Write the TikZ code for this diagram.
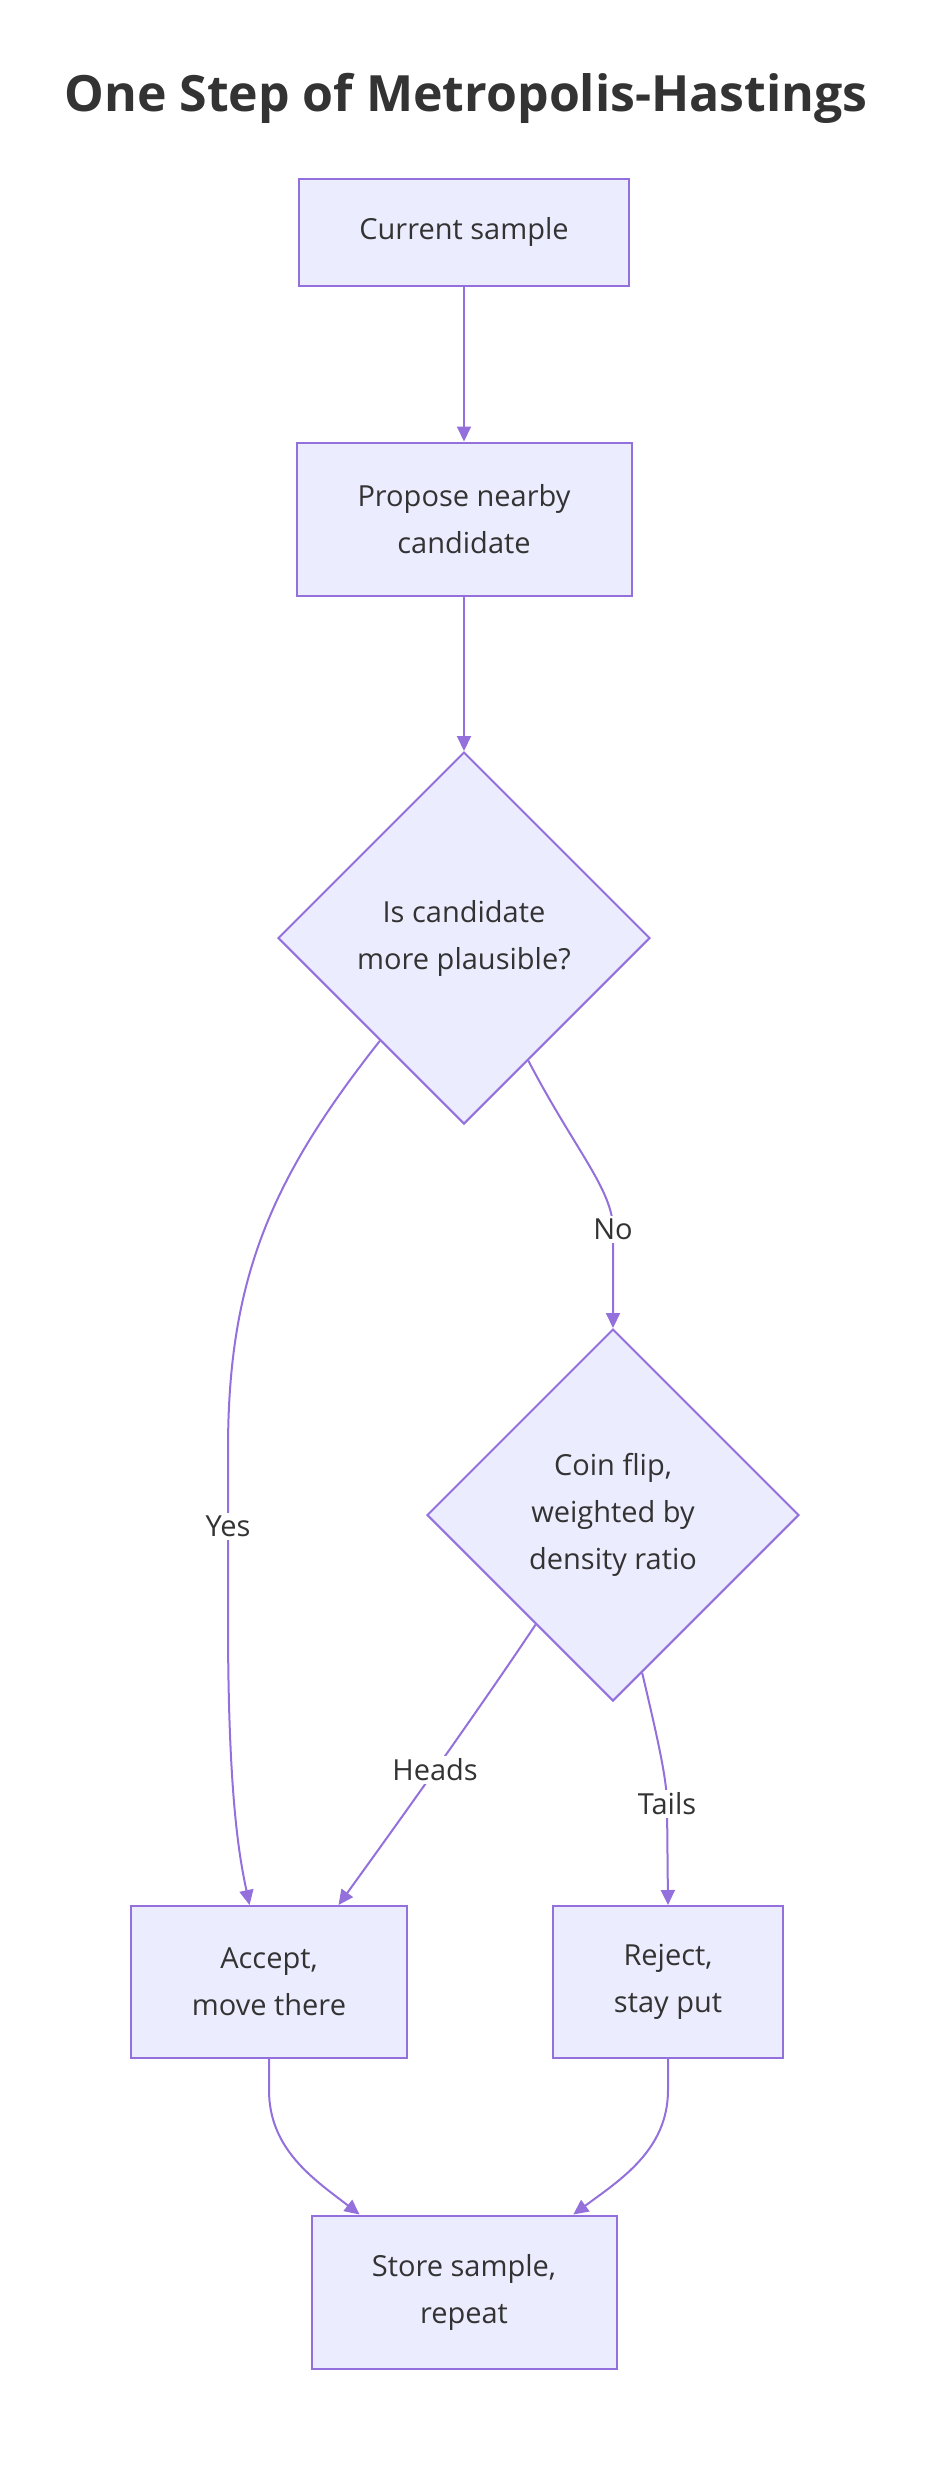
\documentclass[tikz,border=0pt]{standalone}
\usepackage{fontspec}
\setmainfont{Open Sans}
\usetikzlibrary{shapes.geometric,arrows.meta,calc}
\definecolor{nodefill}{HTML}{ECECFF}
\definecolor{nodeline}{HTML}{9370DB}
\definecolor{txt}{HTML}{333333}
\begin{document}
\begin{tikzpicture}[x=1pt,y=-1pt,
  every node/.style={text=txt, font=\fontsize{29}{47}\selectfont},
  box/.style={draw=nodeline, fill=nodefill, line width=2pt, rectangle, align=center, inner sep=0pt},
  decision/.style={draw=nodeline, fill=nodefill, line width=2pt, diamond, aspect=1, align=center, inner sep=0pt, minimum width=372pt, minimum height=372pt},
  conn/.style={draw=nodeline, line width=2pt, -{Triangle[length=15pt,width=14pt]}},
  lbl/.style={fill=white, inner sep=3pt}
]
\useasboundingbox (0,0) rectangle (946,2468);
\node[font=\fontsize{50}{60}\selectfont\bfseries] (title) at (466,98) {One Step of Metropolis-Hastings};
\node[box, minimum width=330pt, minimum height=107pt] (cur) at (464,232) {Current sample};
\node[box, minimum width=335pt, minimum height=153pt] (prop) at (464,519) {Propose nearby\\candidate};
\node[decision] (d1) at (464,938) {Is candidate\\more plausible?};
\node[decision] (d2) at (613,1515) {Coin flip,\\weighted by\\density ratio};
\node[box, minimum width=276pt, minimum height=152pt] (acc) at (269,1982) {Accept,\\move there};
\node[box, minimum width=230pt, minimum height=152pt] (rej) at (668,1982) {Reject,\\stay put};
\node[box, minimum width=305pt, minimum height=153pt] (st) at (464,2292) {Store sample,\\repeat};

\coordinate (yesS) at ($(d1.west)!0.55!(d1.south)$);
\coordinate (noS) at ($(d1.south)!0.344!(d1.east)$);
\coordinate (headS) at ($(d2.west)!0.586!(d2.south)$);
\coordinate (tailS) at ($(d2.south)!0.156!(d2.east)$);
\coordinate (accA) at ($(acc.north west)!0.43!(acc.north east)$);
\coordinate (accB) at ($(acc.north west)!0.75!(acc.north east)$);
\coordinate (stA) at ($(st.north west)!0.16!(st.north east)$);
\coordinate (stB) at ($(st.north west)!0.856!(st.north east)$);

\draw[conn] (cur) -- (prop);
\draw[conn] (prop) -- (d1);
\draw[conn] (yesS) .. controls (270,1180) and (228,1280) .. (228,1450) -- node[lbl, pos=0.45]{Yes} (228,1620) .. controls (228,1800) and (240,1860) .. (accA);
\draw[conn] (noS) .. controls (575,1150) and (613,1190) .. (613,1229) -- node[lbl, pos=0]{No} (d2.north);
\draw[conn] (headS) .. controls (480,1708) and (400,1820) .. node[lbl, pos=0.52]{Heads} (accB);
\draw[conn] (tailS) .. controls (658,1740) and (667,1780) .. (667,1804) -- node[lbl, pos=0]{Tails} (rej.north);
\draw[conn] (acc.south) -- (269,2090) .. controls (269,2150) and (315,2180) .. (stA);
\draw[conn] (rej.south) -- (668,2090) .. controls (668,2150) and (620,2180) .. (stB);
\end{tikzpicture}
\end{document}
